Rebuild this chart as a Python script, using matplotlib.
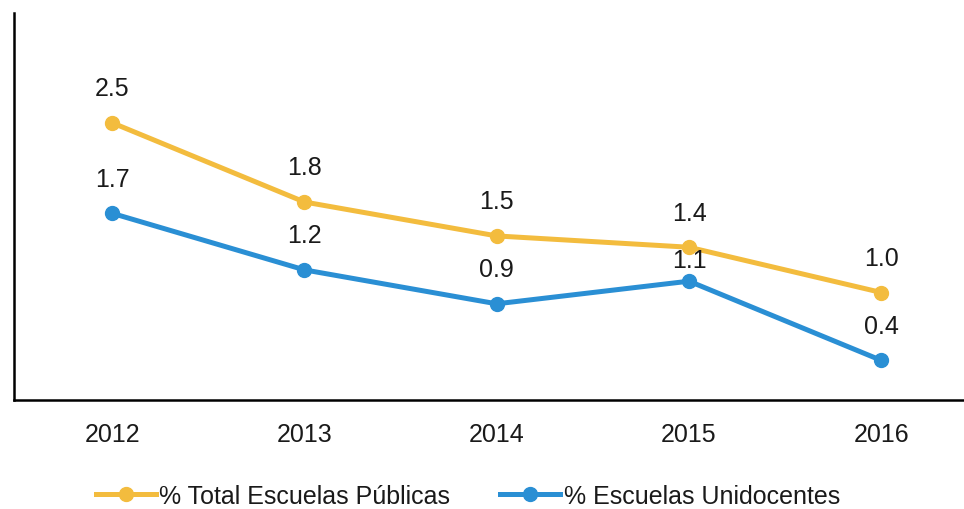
import matplotlib
matplotlib.use("Agg")
from matplotlib import pyplot as plt

#%% Data
years = ["2012", "2013", "2014", "2015", "2016"]
total_publicas = [2.5, 1.8, 1.5, 1.4, 1.0]
unidocentes = [1.7, 1.2, 0.9, 1.1, 0.4]
total_label = "% Total Escuelas Públicas"
unidoc_label = "% Escuelas Unidocentes"

#%% Display
plt.rcParams['font.family'] = ['Liberation Sans', 'DejaVu Sans']

yellow = "#F3BC3E"
blue = "#2A8FD4"
txt = "#1a1a1a"

fig = plt.figure(figsize=(9.64, 5.10), dpi=100)
ax = fig.add_axes([14/964, 109/510, 950/964, 387/510])

x = list(range(len(years)))
ax.plot(x, total_publicas, '-o', color=yellow, lw=3.6, ms=10, label=total_label, zorder=3)
ax.plot(x, unidocentes, '-o', color=blue, lw=3.6, ms=10, label=unidoc_label, zorder=3)

# Value labels above points
for i, v in enumerate(total_publicas):
    ax.annotate(f"{v:.1f}", (i, v), xytext=(0, 25), textcoords="offset points",
                ha="center", va="center", fontsize=18, color=txt)
for i, v in enumerate(unidocentes):
    dy = 15 if i == 3 else 25  # 2015 label sits closer to its point
    ax.annotate(f"{v:.1f}", (i, v), xytext=(0, dy), textcoords="offset points",
                ha="center", va="center", fontsize=18, color=txt)

ax.set_xlim(-0.51, 4.43)
ax.set_ylim(0.05, 3.47)
ax.set_xticks(x)
ax.set_xticklabels(years, fontsize=18, color=txt)
ax.set_yticks([])
ax.tick_params(axis='x', length=0, pad=16)
ax.spines['top'].set_visible(False)
ax.spines['right'].set_visible(False)
ax.spines['left'].set_linewidth(1.8)
ax.spines['bottom'].set_linewidth(1.8)

fig.legend(loc="center", bbox_to_anchor=(468/964, 1 - 497/510), ncol=2, frameon=False,
           fontsize=18, handlelength=2.4, handletextpad=0.15, columnspacing=2.0,
           labelcolor=txt)

fig.savefig("out.png", dpi=100)
